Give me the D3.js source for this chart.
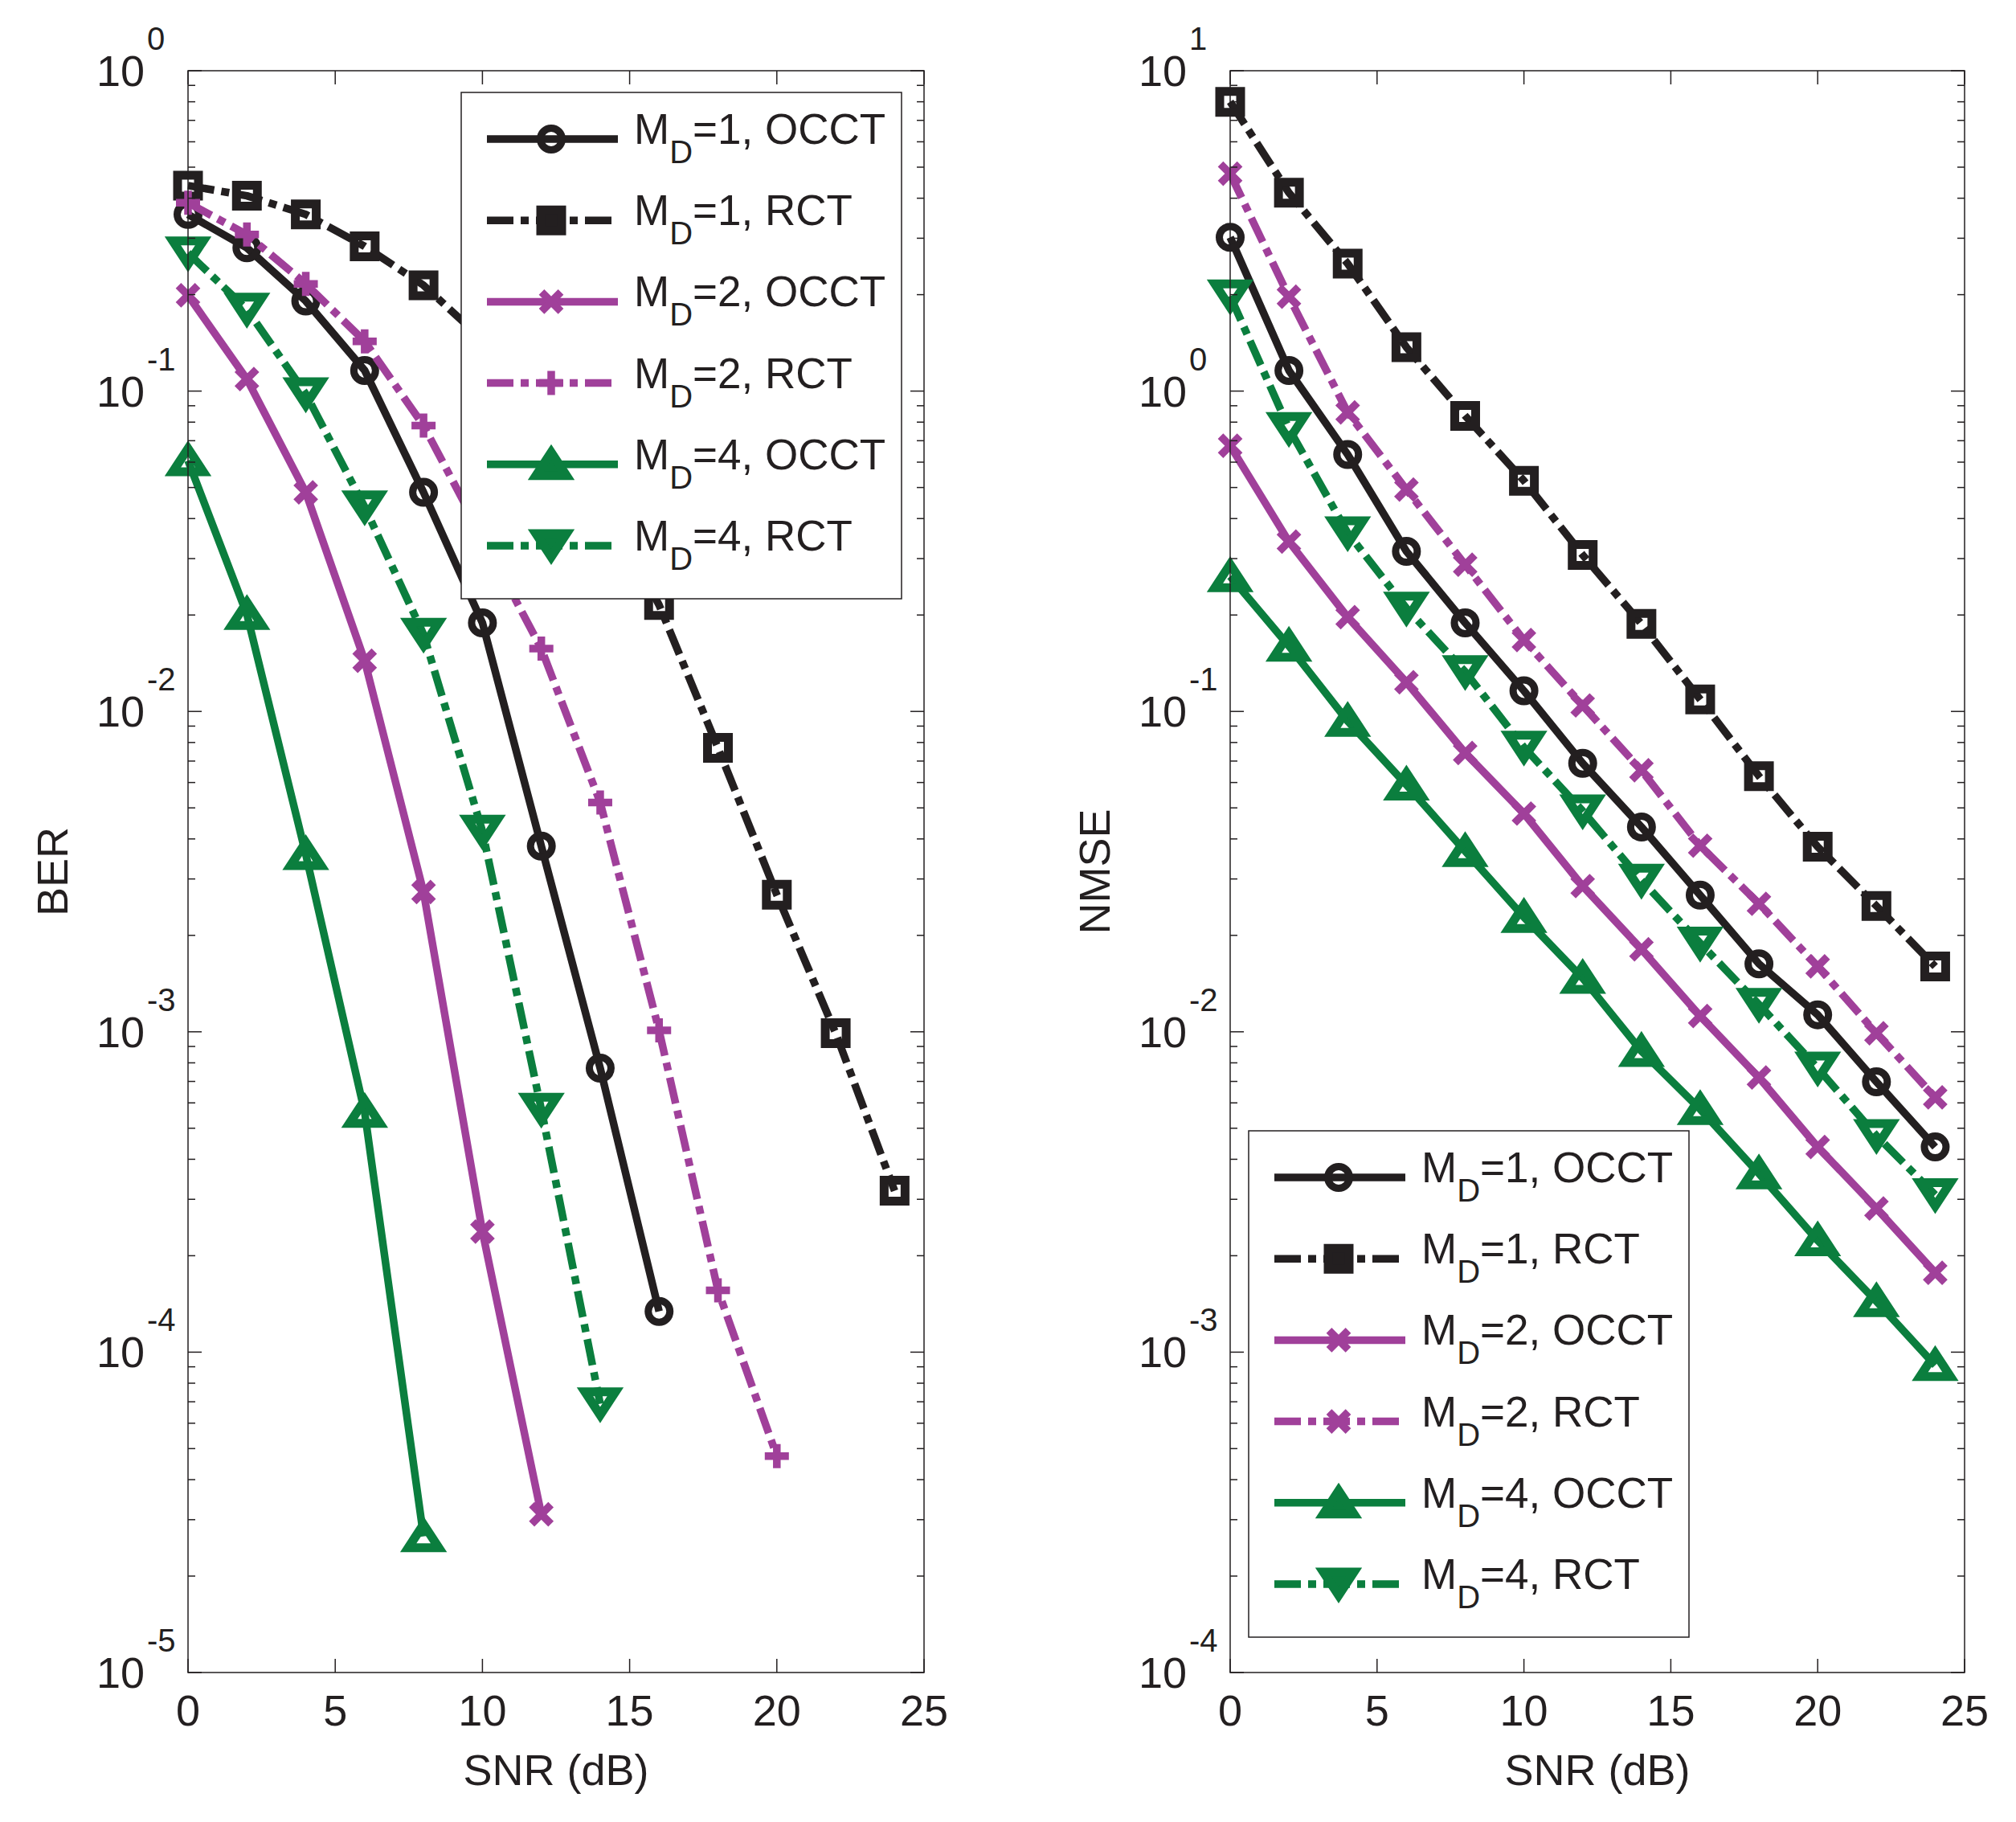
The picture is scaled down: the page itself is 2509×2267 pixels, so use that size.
<!DOCTYPE html>
<html>
<head>
<meta charset="utf-8">
<script src="https://cdn.jsdelivr.net/npm/d3@7"></script>
<style>
  body { margin: 0; background: #fff; }
  text { font-family: "Liberation Sans", Arial, Helvetica, sans-serif; fill: #231f20; }
</style>
</head>
<body>
<div id="chart"></div>
<script>
// SNR points (dB), shared by every curve
const snr = [0, 2, 4, 6, 8, 10, 12, 14, 16, 18, 20, 22, 24];
const xTicks = [0, 5, 10, 15, 20, 25];

// legend text: M_D value and scheme, same order as the series arrays
const legendMd = ["1", "1", "2", "2", "4", "4"];
const legendScheme = ["OCCT", "RCT", "OCCT", "RCT", "OCCT", "RCT"];

// BER (left plot)
const berDecades = [-5, -4, -3, -2, -1, 0];
const ber_md1_occt = [0.356, 0.28, 0.191, 0.116, 0.0483, 0.0189, 0.0038, 7.7e-4, 1.34e-4];
const ber_md1_rct = [0.438, 0.407, 0.356, 0.283, 0.214, 0.145, 0.089, 0.048, 0.0215, 7.7e-3, 2.68e-3, 9.9e-4, 3.19e-4];
const ber_md2_occt = [0.199, 0.109, 0.0483, 0.0144, 2.73e-3, 2.38e-4, 3.12e-5];
const ber_md2_rct = [0.387, 0.308, 0.216, 0.143, 0.078, 0.035, 0.0157, 5.2e-3, 1.01e-3, 1.56e-4, 4.74e-5];
const ber_md4_occt = [0.0607, 0.0201, 3.58e-3, 5.61e-4, 2.66e-5];
const ber_md4_rct = [0.27, 0.18, 0.098, 0.0435, 0.0174, 4.23e-3, 5.73e-4, 6.9e-5];

// NMSE (right plot)
const nmseDecades = [-4, -3, -2, -1, 0, 1];
const nmse_md1_occt = [3.02, 1.16, 0.634, 0.316, 0.189, 0.116, 0.0689, 0.0436, 0.0267, 0.0163, 0.0113, 6.98e-3, 4.37e-3];
const nmse_md1_rct = [8.0, 4.16, 2.5, 1.37, 0.837, 0.525, 0.308, 0.1876, 0.109, 0.0628, 0.0378, 0.0247, 0.016];
const nmse_md2_occt = [0.675, 0.339, 0.197, 0.1233, 0.0742, 0.048, 0.0285, 0.0181, 0.0112, 7.2e-3, 4.37e-3, 2.81e-3, 1.77e-3];
const nmse_md2_rct = [4.77, 1.97, 0.858, 0.493, 0.287, 0.167, 0.1044, 0.0655, 0.0381, 0.0251, 0.016, 9.9e-3, 6.24e-3];
const nmse_md4_occt = [0.264, 0.16, 0.0933, 0.059, 0.0366, 0.0228, 0.0147, 8.7e-3, 5.73e-3, 3.61e-3, 2.23e-3, 1.44e-3, 9.1e-4];
const nmse_md4_rct = [1.98, 0.764, 0.361, 0.21, 0.133, 0.0773, 0.0489, 0.0297, 0.0189, 0.01217, 7.7e-3, 4.74e-3, 3.1e-3];

const black = "#231f20", purple = "#a0409a", green = "#0b7e3e";
const colors = [black, black, purple, purple, green, green];
const dashed = [false, true, false, true, false, true];
const dashdot = "33,9,10,9";
const lineW = 9.5;

// marker shapes around (0,0)
const markerPath = {
  circle: "M13.5,0A13.5,13.5 0 1,1 -13.5,0A13.5,13.5 0 1,1 13.5,0Z",
  square: "M-13,-13H13V13H-13Z",
  x: "M-12,-12L12,12M-12,12L12,-12",
  plus: "M-15,0H15M0,-15V15",
  up: "M0,-15L19,14H-19Z",
  down: "M0,14L19,-15H-19Z"
};
const markerStroke = { circle: 9, square: 11, x: 9.5, plus: 9.5, up: 11, down: 11 };
// shapes that look solid in the legend
const legendFilled = { square: true, up: true, down: true };

const W = 2509, H = 2267;
const svg = d3.select("#chart").append("svg")
  .attr("width", W)
  .attr("height", H)
  .style("background", "#fff");

function drawMarkers(g, pts, shape, color, filled) {
  g.append("g")
    .selectAll("path")
    .data(pts)
    .join("path")
      .attr("transform", d => `translate(${d.x},${d.y})`)
      .attr("d", markerPath[shape])
      .attr("fill", filled ? color : "none")
      .attr("stroke", color)
      .attr("stroke-width", markerStroke[shape])
      .attr("stroke-linejoin", "miter")
      .attr("stroke-miterlimit", 3);
}

function drawPanel(p) {
  const x = d3.scaleLinear().domain([0, 25]).range([p.left, p.right]);
  const y = d3.scaleLog().domain([Math.pow(10, p.decades[0]), Math.pow(10, p.decades[p.decades.length - 1])])
    .range([p.bottom, p.top]);

  const g = svg.append("g");

  // curves
  p.series.forEach((vals, i) => {
    const pts = vals.map((v, j) => ({ x: x(snr[j]), y: y(v) }));
    const line = d3.line().x(d => d.x).y(d => d.y);
    g.append("path")
      .datum(pts)
      .attr("d", line)
      .attr("fill", "none")
      .attr("stroke", colors[i])
      .attr("stroke-width", lineW)
      .attr("stroke-linejoin", "round")
      .attr("stroke-dasharray", dashed[i] ? dashdot : null);
    drawMarkers(g, pts, p.markers[i], colors[i], false);
  });

  // box
  g.append("rect")
    .attr("x", p.left).attr("y", p.top)
    .attr("width", p.right - p.left).attr("height", p.bottom - p.top)
    .attr("fill", "none").attr("stroke", black).attr("stroke-width", 1.5);

  // x ticks, bottom and top, inward
  const tk = g.append("g").attr("stroke", black).attr("stroke-width", 1.5);
  xTicks.forEach(t => {
    tk.append("line").attr("x1", x(t)).attr("x2", x(t)).attr("y1", p.bottom).attr("y2", p.bottom - 17);
    tk.append("line").attr("x1", x(t)).attr("x2", x(t)).attr("y1", p.top).attr("y2", p.top + 17);
  });
  g.append("g")
    .selectAll("text")
    .data(xTicks)
    .join("text")
      .attr("x", d => x(d))
      .attr("y", p.bottom + 66)
      .attr("text-anchor", "middle")
      .attr("font-size", 54)
      .text(d => d);

  // y ticks: decades and minor 2..9
  const minor = [];
  p.decades.slice(0, -1).forEach(e => {
    for (let k = 2; k <= 9; k++) minor.push(k * Math.pow(10, e));
  });
  minor.forEach(v => {
    tk.append("line").attr("x1", p.left).attr("x2", p.left + 9).attr("y1", y(v)).attr("y2", y(v));
    tk.append("line").attr("x1", p.right).attr("x2", p.right - 9).attr("y1", y(v)).attr("y2", y(v));
  });
  p.decades.forEach(e => {
    const yy = y(Math.pow(10, e));
    tk.append("line").attr("x1", p.left).attr("x2", p.left + 17).attr("y1", yy).attr("y2", yy);
    tk.append("line").attr("x1", p.right).attr("x2", p.right - 17).attr("y1", yy).attr("y2", yy);
  });

  const yl = g.append("g")
    .selectAll("g")
    .data(p.decades)
    .join("g")
      .attr("transform", d => `translate(${p.left},${y(Math.pow(10, d))})`);
  yl.append("text")
    .attr("x", -54).attr("y", 19)
    .attr("text-anchor", "end")
    .attr("font-size", 54)
    .text("10");
  yl.append("text")
    .attr("x", -51).attr("y", -26)
    .attr("font-size", 40)
    .text(d => d);

  // axis titles
  g.append("text")
    .attr("x", (p.left + p.right) / 2)
    .attr("y", p.bottom + 140)
    .attr("text-anchor", "middle")
    .attr("font-size", 54)
    .text("SNR (dB)");
  g.append("text")
    .attr("transform", `translate(${p.left - 150},${(p.top + p.bottom) / 2}) rotate(-90)`)
    .attr("text-anchor", "middle")
    .attr("font-size", 54)
    .text(p.yLabel);

  // legend
  const lg = g.append("g").attr("transform", `translate(${p.left + p.legendX},${p.top + p.legendY})`);
  lg.append("rect")
    .attr("width", 548).attr("height", 630)
    .attr("fill", "#fff").attr("stroke", black).attr("stroke-width", 1.5);
  legendMd.forEach((md, i) => {
    const ry = 58 + i * 101.2;
    const shape = p.markers[i];
    lg.append("line")
      .attr("x1", 32).attr("x2", 195).attr("y1", ry).attr("y2", ry)
      .attr("stroke", colors[i]).attr("stroke-width", lineW)
      .attr("stroke-dasharray", dashed[i] ? dashdot : null);
    drawMarkers(lg, [{ x: 112, y: ry }], shape, colors[i], legendFilled[shape]);
    const t = lg.append("text").attr("x", 215).attr("y", ry + 6).attr("font-size", 53);
    t.append("tspan").text("M");
    t.append("tspan").attr("font-size", 40).attr("dy", 24).text("D");
    t.append("tspan").attr("dy", -24).text(`=${md}, ${legendScheme[i]}`);
  });
}

drawPanel({
  left: 234, right: 1150, top: 88, bottom: 2081,
  decades: berDecades,
  yLabel: "BER",
  series: [ber_md1_occt, ber_md1_rct, ber_md2_occt, ber_md2_rct, ber_md4_occt, ber_md4_rct],
  markers: ["circle", "square", "x", "plus", "up", "down"],
  legendX: 340, legendY: 27
});

drawPanel({
  left: 1531, right: 2445, top: 88, bottom: 2081,
  decades: nmseDecades,
  yLabel: "NMSE",
  series: [nmse_md1_occt, nmse_md1_rct, nmse_md2_occt, nmse_md2_rct, nmse_md4_occt, nmse_md4_rct],
  markers: ["circle", "square", "x", "x", "up", "down"],
  legendX: 23, legendY: 1319
});
</script>
</body>
</html>
